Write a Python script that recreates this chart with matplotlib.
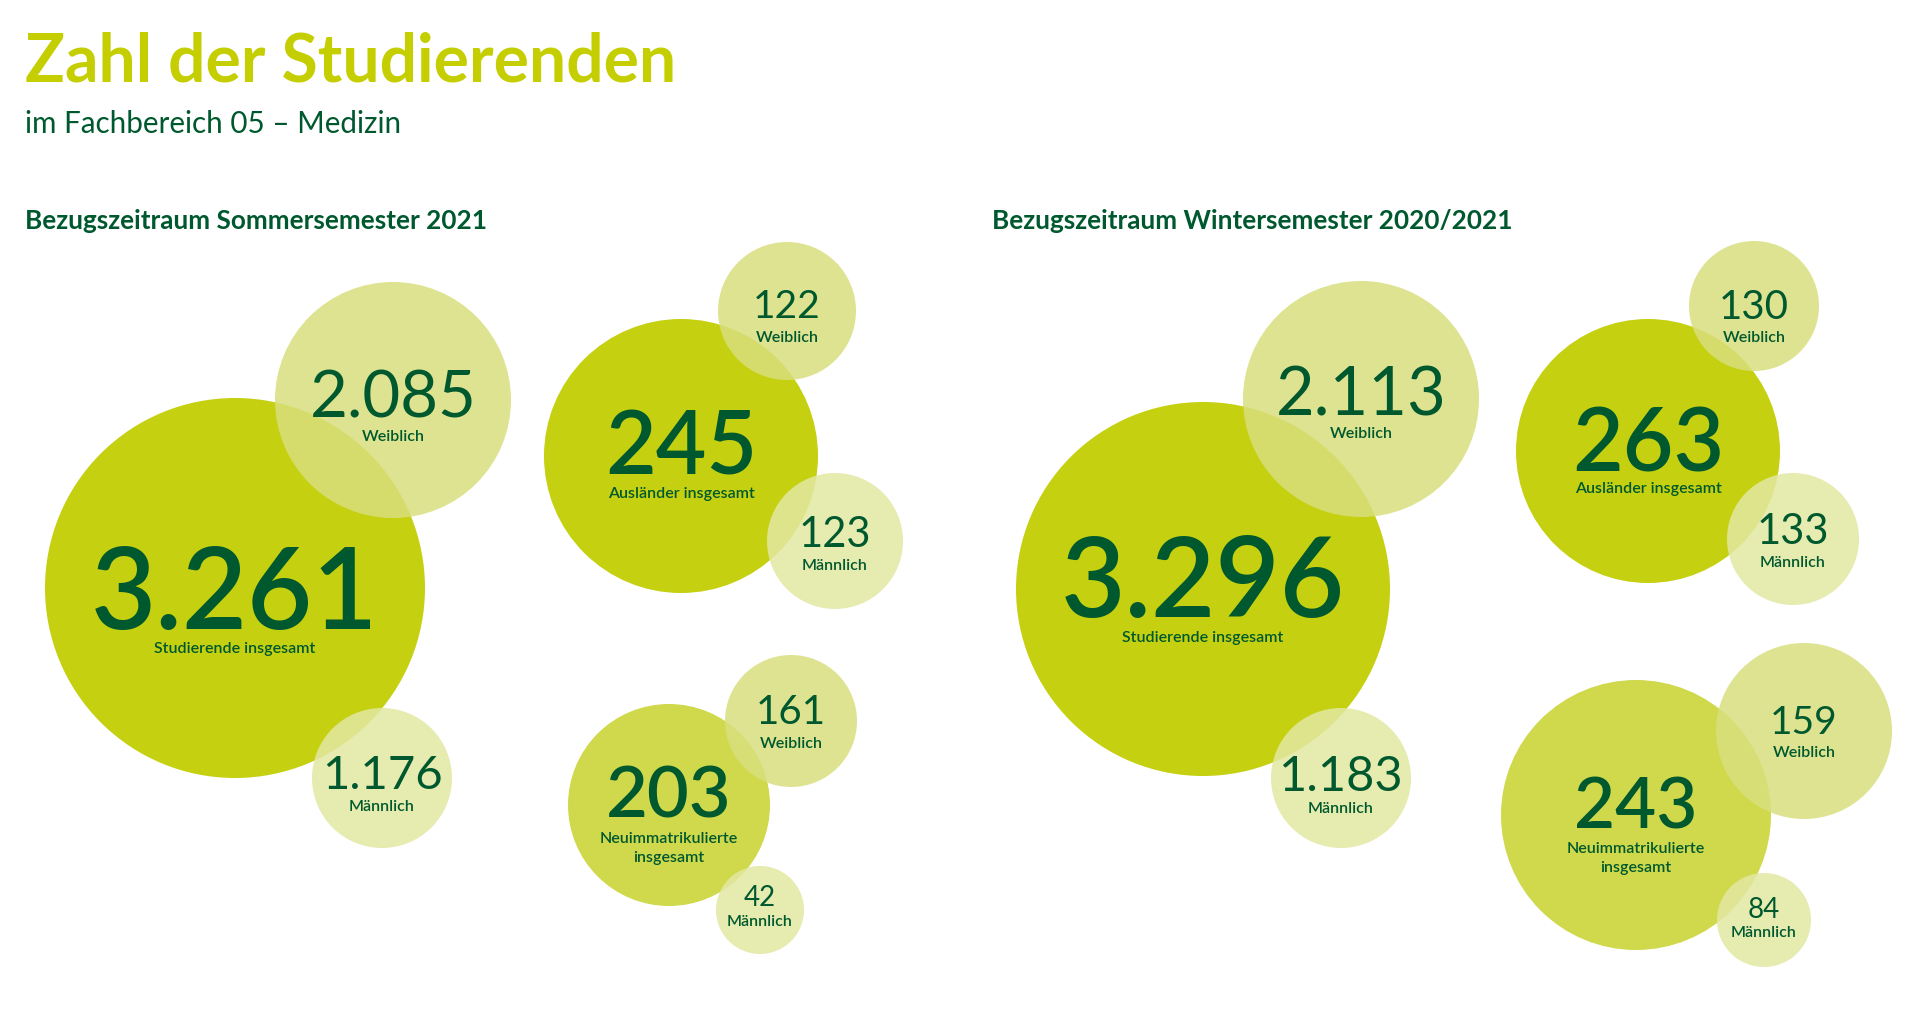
import matplotlib
matplotlib.use("Agg")
import matplotlib.pyplot as plt
from matplotlib.patches import Circle

plt.rcParams['font.family'] = ['Lato', 'DejaVu Sans']

# ---------------- data ----------------
title = "Zahl der Studierenden"
subtitle = "im Fachbereich 05 – Medizin"
panel_titles = ["Bezugszeitraum Sommersemester 2021", "Bezugszeitraum Wintersemester 2020/2021"]

group_labels = ["Studierende insgesamt", "Ausländer insgesamt", "Neuimmatrikulierte\ninsgesamt"]
sub_labels = ["Weiblich", "Männlich"]

# [insgesamt, weiblich, männlich] per group
ss21_studierende = [3261, 2085, 1176]
ss21_auslaender = [245, 122, 123]
ss21_neuimm = [203, 161, 42]

ws2021_studierende = [3296, 2113, 1183]
ws2021_auslaender = [263, 130, 133]
ws2021_neuimm = [243, 159, 84]

panels_values = [
    [ss21_studierende, ss21_auslaender, ss21_neuimm],
    [ws2021_studierende, ws2021_auslaender, ws2021_neuimm],
]

# ---------------- layout (pixel coordinates) ----------------
# per bubble: (cx, cy, r, number_baseline, number_fontsize, label_baseline)
layout = [
    [  # SS 2021
        [(235, 588, 190, 629, 81, 653), (393, 400, 118, 417, 47, 441), (382, 778, 70, 789, 34, 811)],
        [(681, 456, 137, 474, 63, 498), (787, 311, 69, 318, 28, 342), (835, 541, 68, 547, 30, 570)],
        [(669, 805, 101, 817, 52, 843), (791, 721, 66, 724, 29, 748), (760, 910, 44, 906, 20, 926)],
    ],
    [  # WS 2020/2021
        [(1203, 589, 187, 617, 80, 642), (1361, 399, 118, 415, 48, 438), (1341, 778, 70, 791, 35, 813)],
        [(1648, 451, 132, 471, 63, 493), (1754, 306, 65, 319, 29, 342), (1793, 539, 66, 544, 30, 567)],
        [(1636, 815, 135, 828, 51, 853), (1804, 731, 88, 734, 28, 757), (1764, 920, 47, 918, 20, 937)],
    ],
]
panel_title_x = [25, 992]

# ---------------- styles ----------------
C_TITLE = "#C5CE00"
C_TEXT = "#00592E"
C_TOTAL = ["#C5D010", "#C5D010", "#D0D94B"]
C_WEIB = "#D8DF7D"
C_MAENN = "#E2E8A2"
ALPHA_SUB = 0.85

fig = plt.figure(figsize=(19.2, 10.13), dpi=100)
ax = fig.add_axes([0, 0, 1, 1])
ax.set_xlim(0, 1920)
ax.set_ylim(1013, 0)
ax.axis('off')

fig.text(25 / 1920, 1 - 82 / 1013, title, color=C_TITLE, fontsize=47.5, fontweight='bold',
         ha='left', va='baseline')
fig.text(25 / 1920, 1 - 133 / 1013, subtitle, color=C_TEXT, fontsize=21.3,
         ha='left', va='baseline')


def fmt(v):
    return f"{v:,}".replace(",", ".")


for p, (vals_p, lay_p) in enumerate(zip(panels_values, layout)):
    ax.text(panel_title_x[p], 229, panel_titles[p], color=C_TEXT, fontsize=18.8,
            fontweight='bold', ha='left', va='baseline')
    for g, (vals, lay) in enumerate(zip(vals_p, lay_p)):
        # circles: total first (opaque), then sub-bubbles translucent
        cx, cy, r = lay[0][:3]
        ax.add_patch(Circle((cx, cy), r, facecolor=C_TOTAL[g], edgecolor='none', zorder=1))
        for k, col in zip((1, 2), (C_WEIB, C_MAENN)):
            cx, cy, r = lay[k][:3]
            ax.add_patch(Circle((cx, cy), r, facecolor=col, edgecolor='none',
                                alpha=ALPHA_SUB, zorder=2))
        labels = [group_labels[g]] + sub_labels
        for k in range(3):
            cx, cy, r, nb, nfs, lb = lay[k]
            ax.text(cx, nb, fmt(vals[k]), color=C_TEXT, fontsize=nfs,
                    fontweight='semibold' if k == 0 else 'normal',
                    ha='center', va='baseline', zorder=5)
            for i, line in enumerate(labels[k].split("\n")):
                ax.text(cx, lb + i * 19, line, color=C_TEXT, fontsize=11.5,
                        fontweight='semibold', ha='center', va='baseline', zorder=5)

fig.savefig("out.png", dpi=100, facecolor='white')
